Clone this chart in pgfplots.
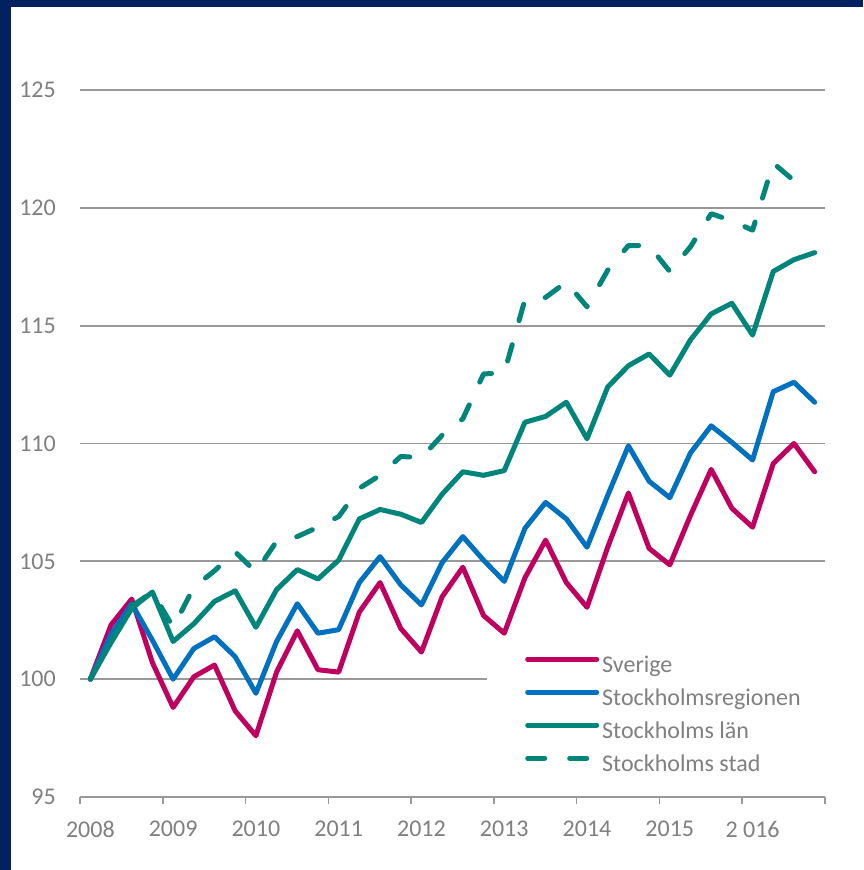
\documentclass[border=0pt]{standalone}
\usepackage{pgfplots}
\pgfplotsset{compat=1.18}
\usepackage{fontspec}
\setmainfont{Carlito}
\definecolor{navy}{HTML}{022160}
\definecolor{sverige}{HTML}{C0005F}
\definecolor{sreg}{HTML}{0070C0}
\definecolor{tealc}{HTML}{00857A}
\definecolor{txt}{HTML}{808080}
\definecolor{gridc}{HTML}{999999}
\pgfplotstableread{
k v
0 100
1 102.3
2 103.4
3 100.7
4 98.8
5 100.1
6 100.6
7 98.65
8 97.6
9 100.3
10 102.05
11 100.4
12 100.3
13 102.85
14 104.1
15 102.15
16 101.15
17 103.5
18 104.75
19 102.7
20 101.95
21 104.3
22 105.9
23 104.1
24 103.05
25 105.6
26 107.9
27 105.55
28 104.85
29 106.95
30 108.9
31 107.25
32 106.45
33 109.15
34 110.0
35 108.8
}\sverigedata
\pgfplotstableread{
k v
0 100
1 101.9
2 103.2
3 101.65
4 100.0
5 101.3
6 101.8
7 100.95
8 99.4
9 101.6
10 103.2
11 101.95
12 102.1
13 104.1
14 105.2
15 104.0
16 103.15
17 104.95
18 106.05
19 105.05
20 104.15
21 106.4
22 107.5
23 106.8
24 105.6
25 107.8
26 109.9
27 108.4
28 107.7
29 109.6
30 110.75
31 110.05
32 109.3
33 112.2
34 112.6
35 111.75
}\regdata
\pgfplotstableread{
k v
0 100
1 101.55
2 103.0
3 103.7
4 101.6
5 102.35
6 103.3
7 103.75
8 102.2
9 103.8
10 104.65
11 104.25
12 105.05
13 106.8
14 107.2
15 107.0
16 106.65
17 107.85
18 108.8
19 108.65
20 108.85
21 110.9
22 111.15
23 111.75
24 110.2
25 112.4
26 113.3
27 113.8
28 112.9
29 114.4
30 115.5
31 115.95
32 114.6
33 117.3
34 117.8
35 118.1
}\landata
\pgfplotstableread{
k v
0 100
1 101.6
2 103.1
3 103.7
4 102.2
5 103.9
6 104.6
7 105.4
8 104.55
9 105.85
10 106.05
11 106.45
12 106.9
13 108.1
14 108.65
15 109.45
16 109.4
17 110.35
18 111.05
19 112.95
20 113.0
21 116.1
22 116.2
23 116.85
24 115.8
25 117.35
26 118.4
27 118.4
28 117.3
29 118.35
30 119.75
31 119.45
32 119.05
33 121.9
34 121.15
}\staddata
\begin{document}
\begin{tikzpicture}[x=1pt,y=1pt]
\fill[white] (0,0) rectangle (863,870);
\fill[navy] (0,0) rectangle (11,870);
\fill[navy] (0,863) rectangle (863,870);
\begin{axis}[
  at={(80pt,73pt)}, anchor=south west,
  scale only axis, width=745pt, height=707pt,
  xmin=-0.5, xmax=35.5, ymin=95, ymax=125,
  axis line style={draw=none},
  xtick={-0.5,3.5,...,35.5}, xticklabels={},
  xtick pos=left, tick align=outside,
  major tick length=7pt,
  xtick style={draw=gridc, line width=1.6pt},
  ytick={95,100,...,125}, yticklabels={95,100,105,110,115,120,125},
  ytick style={draw=none},
  ymajorgrids, grid style={draw=gridc, line width=1.9pt},
  yticklabel style={anchor=east, inner sep=0pt, xshift=-17pt, font=\fontsize{24}{28}\selectfont, text=txt},
  extra x ticks={0,4,...,32},
  extra x tick labels={2008,2009,2010,2011,2012,2013,2014,2015,2 016},
  extra x tick style={major tick length=0pt, xticklabel style={anchor=north, inner sep=0pt, yshift=-24pt, font=\fontsize{24}{28}\selectfont, text=txt}},
  legend cell align=left,
  legend image code/.code={\draw[#1] (0pt,7.5pt) -- (69pt,7.5pt);},
  legend style={at={(axis description cs:0.5463,0.2107)}, anchor=north west, draw=none, fill=white,
    inner xsep=38pt, inner ysep=2pt, row sep=0pt,
    font=\fontsize{24}{28}\selectfont, text=txt,
    nodes={text height=17pt, text depth=6pt, inner ysep=5pt, inner xsep=3pt}},
  every axis plot/.append style={line width=5pt, line join=round, line cap=round},
]
\addplot[sverige] table[x=k,y=v] {\sverigedata};
\addlegendentry{Sverige}
\addplot[sreg] table[x=k,y=v] {\regdata};
\addlegendentry{Stockholmsregionen}
\addplot[tealc] table[x=k,y=v] {\landata};
\addlegendentry{Stockholms län}
\addplot[tealc, dash pattern=on 17pt off 25pt] table[x=k,y=v] {\staddata};
\addlegendentry{Stockholms stad}
\end{axis}
\end{tikzpicture}
\end{document}
